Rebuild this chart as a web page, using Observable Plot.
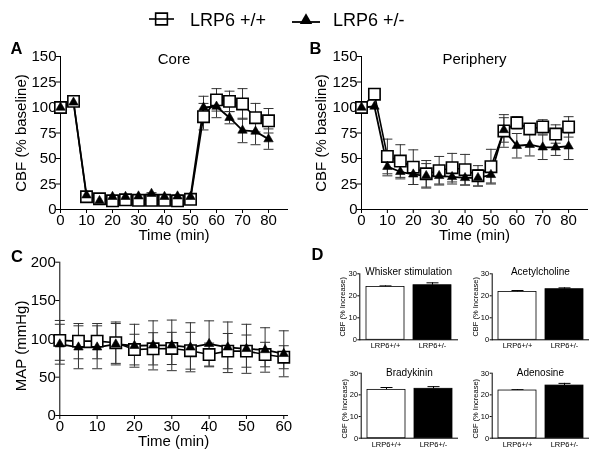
<!DOCTYPE html>
<html>
<head>
<meta charset="utf-8">
<script src="https://cdn.jsdelivr.net/npm/d3@7"></script>
<script src="https://cdn.jsdelivr.net/npm/@observablehq/plot@0.6"></script>
<style>
  html, body { margin: 0; padding: 0; background: #fff; }
  #fig { position: relative; width: 600px; height: 456px; overflow: hidden; background: #fff; filter: grayscale(100%); }
  #fig > svg, #fig > div { position: absolute; }
</style>
</head>
<body>
<div id="fig"></div>
<script>
const FONT = "'Liberation Sans', Arial, Helvetica, sans-serif";

// ---------- Data ----------
const timeCBF = [0, 5, 10, 15, 20, 25, 30, 35, 40, 45, 50, 55, 60, 65, 70, 75, 80];
const cbfTicksX = [0, 10, 20, 30, 40, 50, 60, 70, 80];
const cbfTicksY = [0, 25, 50, 75, 100, 125, 150];

// Panel A: Core
const coreWT     = [100, 106, 12.5, 10.5, 8.5, 9.5, 9, 9, 9, 8.5, 10, 91, 107.5, 106, 103.5, 90, 87];
const coreWTErr  = [0, 0, 1.5, 1, 1, 1, 1, 1, 1, 1, 1, 13, 11, 10, 15, 14, 12];
const coreHet    = [100, 105, 14, 8.5, 12.5, 12.5, 13, 15.5, 12.5, 13, 12.5, 100, 101, 90, 77.5, 76.5, 69];
const coreHetErr = [0, 0, 1, 1, 1, 1, 1, 1, 1, 1, 1, 11, 11, 6, 12, 13, 10];

// Panel B: Periphery
const periWT     = [100, 113, 52, 47.5, 41.5, 35, 38, 41, 39, 33, 42, 77, 85, 79, 81, 74, 81];
const periWTErr  = [0, 0, 17, 16, 17, 13, 14, 14, 15, 10, 17, 16, 6, 5, 7, 9, 10];
const periHet    = [100, 101, 42, 37, 34.5, 33, 33, 32, 31, 31, 34, 78, 62.5, 63.5, 61, 61, 62];
const periHetErr = [0, 0, 9, 7, 10, 12, 8, 7, 7, 8, 8, 12, 12, 11, 12, 8, 13];

// Panel C: MAP
const timeMAP   = [0, 5, 10, 15, 20, 25, 30, 35, 40, 45, 50, 55, 60];
const mapTicksX = [0, 10, 20, 30, 40, 50, 60];
const mapTicksY = [0, 50, 100, 150, 200];
const mapWT     = [98, 97, 97, 95, 86, 87, 87.5, 84.5, 79.5, 84, 84, 79.5, 76];
const mapWTErr  = [26, 23, 23, 27, 20, 21, 21, 24, 15, 23, 21, 16, 15];
const mapHet    = [93, 89, 89, 93, 91, 91.5, 91.5, 89, 93.5, 89, 87, 85.5, 80.5];
const mapHetErr = [26, 28, 28, 27, 28, 32, 33, 32, 30, 33, 32, 29, 30];

// Panel D: evoked CBF increase
const genotypes = ["LRP6+/+", "LRP6+/-"];
const barTicksY = [0, 10, 20, 30];
const whiskerMean = [24.0, 24.8], whiskerErr = [0.5, 1.1];
const achMean     = [21.7, 23.0], achErr     = [0.7, 0.6];
const bradyMean   = [22.3, 22.8], bradyErr   = [1.1, 1.0];
const adenoMean   = [22.0, 24.3], adenoErr   = [0.4, 1.0];

// ---------- Helpers ----------
const capSymbol = {
  draw(ctx, size) {
    const w = Math.sqrt(size / Math.PI);
    ctx.moveTo(-w, 0);
    ctx.lineTo(w, 0);
  }
};

function rows(t, v, e) { return t.map((x, i) => ({t: x, v: v[i], e: e[i]})); }

const fig = d3.select("#fig");

function place(node, left, top) {
  node.style.position = "absolute";
  node.style.left = left + "px";
  node.style.top = top + "px";
  document.getElementById("fig").appendChild(node);
}

const centered = {textAnchor: "middle", lineAnchor: "middle", fill: "black"};

function linePanel(o) {
  const wt = rows(o.t, o.wt, o.wtErr);
  const het = rows(o.t, o.het, o.hetErr);
  const errs = [...het, ...wt].filter(d => d.e > 0);
  const marks = [
    Plot.ruleX(errs, {x: "t", y1: d => d.v - d.e, y2: d => d.v + d.e, stroke: "#333", strokeWidth: 1}),
    Plot.dot(errs, {x: "t", y: d => d.v + d.e, symbol: capSymbol, r: 5, fill: "none", stroke: "#333", strokeWidth: 1}),
    Plot.dot(errs, {x: "t", y: d => d.v - d.e, symbol: capSymbol, r: 5, fill: "none", stroke: "#333", strokeWidth: 1}),
    Plot.line(het, {x: "t", y: "v", stroke: "black", strokeWidth: 1.8}),
    Plot.line(wt, {x: "t", y: "v", stroke: "black", strokeWidth: 1.6}),
    Plot.dot(wt, {x: "t", y: "v", symbol: "square", r: 6.4, fill: "white", stroke: "black", strokeWidth: 1.6}),
    Plot.dot(het, {x: "t", y: "v", symbol: "triangle", r: 3.5, fill: "black", stroke: "black", strokeWidth: 0.6}),
    Plot.text(["Time (min)"], {...centered, text: d => d, frameAnchor: "bottom", dy: o.xlabelDy, fontSize: 15}),
    Plot.text([o.ylabel], {...centered, text: d => d, frameAnchor: "left", rotate: -90, dx: o.ylabelDx, dy: o.ylabelDy || 0, fontSize: 15})
  ];
  if (o.title) marks.push(Plot.text([o.title], {...centered, text: d => d, frameAnchor: "top", dy: 3, fontSize: 15}));
  return Plot.plot({
    width: o.width, height: o.height,
    marginLeft: o.ml, marginRight: o.mr, marginTop: o.mt, marginBottom: o.mb,
    style: {fontFamily: FONT, fontSize: "15px", color: "black", background: "transparent", overflow: "visible"},
    x: {domain: o.xDomain, ticks: o.xTicks, tickFormat: d => d, tickSize: 4, tickPadding: 1, line: true, label: null},
    y: {domain: o.yDomain, ticks: o.yTicks, tickFormat: d => d, tickSize: 4, tickPadding: 0, line: true, label: null},
    marks
  });
}

function barPanel(o) {
  const data = genotypes.map((g, i) => ({g, v: o.mean[i], e: o.err[i]}));
  return Plot.plot({
    width: o.width, height: o.height,
    marginLeft: o.ml, marginRight: o.mr, marginTop: o.mt, marginBottom: o.mb,
    style: {fontFamily: FONT, fontSize: "7.5px", color: "black", background: "transparent", overflow: "visible"},
    x: {domain: genotypes, paddingInner: 0.2, paddingOuter: 0.12, tickSize: 0, tickPadding: 3, line: true, label: null},
    y: {domain: [0, 30], ticks: barTicksY, tickFormat: d => d, tickSize: 2, tickPadding: 1, line: true, label: null},
    color: {domain: genotypes, range: ["white", "black"]},
    marks: [
      Plot.ruleX(data, {x: "g", y1: "v", y2: d => d.v + d.e, stroke: "black", strokeWidth: 1}),
      Plot.dot(data, {x: "g", y: d => d.v + d.e, symbol: capSymbol, r: 6, fill: "none", stroke: "black", strokeWidth: 1}),
      Plot.barY(data, {x: "g", y: "v", fill: "g", stroke: "black", strokeWidth: 0.8}),
      Plot.text([o.title], {...centered, text: d => d, frameAnchor: "top", dy: o.titleDy, fontSize: 10}),
      Plot.text(["CBF (% Increase)"], {...centered, text: d => d, frameAnchor: "left", rotate: -90, dx: -17, dy: o.ylabelDy || 0, fontSize: 7.5})
    ]
  });
}

// ---------- Panels ----------
place(linePanel({
  t: timeCBF, wt: coreWT, wtErr: coreWTErr, het: coreHet, hetErr: coreHetErr,
  xDomain: [0, 87.3], xTicks: cbfTicksX, yDomain: [0, 150], yTicks: cbfTicksY,
  title: "Core", ylabel: "CBF (% baseline)", ylabelDx: -39, xlabelDy: 25.5,
  width: 300, height: 205, ml: 60, mr: 13, mt: 16, mb: 36
}), 0, 40);

place(linePanel({
  t: timeCBF, wt: periWT, wtErr: periWTErr, het: periHet, hetErr: periHetErr,
  xDomain: [0, 87.3], xTicks: cbfTicksX, yDomain: [0, 150], yTicks: cbfTicksY,
  title: "Periphery", ylabel: "CBF (% baseline)", ylabelDx: -40, xlabelDy: 25.5,
  width: 300, height: 205, ml: 61, mr: 13, mt: 16, mb: 36
}), 300, 40);

place(linePanel({
  t: timeMAP, wt: mapWT, wtErr: mapWTErr, het: mapHet, hetErr: mapHetErr,
  xDomain: [0, 61], xTicks: mapTicksX, yDomain: [0, 200], yTicks: mapTicksY,
  title: null, ylabel: "MAP (mmHg)", ylabelDx: -39, ylabelDy: 7, xlabelDy: 26,
  width: 300, height: 211, ml: 59.3, mr: 13, mt: 16.7, mb: 41
}), 0, 245);

place(barPanel({title: "Whisker stimulation", mean: whiskerMean, err: whiskerErr, titleDy: -2,
  width: 135, height: 95, ml: 34.3, mr: 3, mt: 15.3, mb: 13.7}), 325, 258);
place(barPanel({title: "Acetylcholine", mean: achMean, err: achErr, titleDy: -2,
  width: 140, height: 95, ml: 34.7, mr: 9, mt: 15.3, mb: 13.7}), 457, 258);
place(barPanel({title: "Bradykinin", mean: bradyMean, err: bradyErr, titleDy: 0, ylabelDy: 3,
  width: 134, height: 95, ml: 34.7, mr: 3, mt: 15.7, mb: 14.3}), 326, 357);
place(barPanel({title: "Adenosine", mean: adenoMean, err: adenoErr, titleDy: 0, ylabelDy: 3,
  width: 140, height: 95, ml: 34.7, mr: 9, mt: 15.7, mb: 14.3}), 457, 357);

// ---------- Legend & panel letters (overlay) ----------
const ov = fig.append("svg")
  .attr("width", 600).attr("height", 456)
  .style("left", "0px").style("top", "0px")
  .style("pointer-events", "none")
  .style("font-family", FONT);

const legendItems = [
  {label: "LRP6 +/+", kind: "square"},
  {label: "LRP6 +/-", kind: "triangle"}
];
const legendPos = [{cx: 161.5, cy: 19, x1: 149, x2: 174, ly: 19, tx: 190},
                   {cx: 306, cy: 20.5, x1: 292, x2: 320, ly: 22, tx: 333}];
legendItems.forEach((it, i) => {
  const p = legendPos[i];
  const g = ov.append("g");
  if (it.kind === "square") {
    g.append("path").attr("transform", `translate(${p.cx},${p.cy})`)
      .attr("d", d3.symbol(d3.symbolSquare, 138)())
      .attr("fill", "white").attr("stroke", "black").attr("stroke-width", 1.6);
    g.append("line").attr("x1", p.x1).attr("x2", p.x2).attr("y1", p.ly).attr("y2", p.ly)
      .attr("stroke", "black").attr("stroke-width", 1.6);
  } else {
    g.append("line").attr("x1", p.x1).attr("x2", p.x2).attr("y1", p.ly).attr("y2", p.ly)
      .attr("stroke", "black").attr("stroke-width", 1.8);
    g.append("path").attr("transform", `translate(${p.cx},${p.cy})`)
      .attr("d", d3.symbol(d3.symbolTriangle, 66)())
      .attr("fill", "black");
  }
  g.append("text").attr("x", p.tx).attr("y", 26).attr("font-size", 18).text(it.label);
});

const letters = [
  {t: "A", x: 10.5, y: 54},
  {t: "B", x: 309.5, y: 53.5},
  {t: "C", x: 11, y: 261.5},
  {t: "D", x: 311.5, y: 260}
];
ov.selectAll("text.letter").data(letters).join("text")
  .attr("class", "letter")
  .attr("x", d => d.x).attr("y", d => d.y)
  .attr("font-size", 16.5).attr("font-weight", "bold")
  .text(d => d.t);
</script>
</body>
</html>
